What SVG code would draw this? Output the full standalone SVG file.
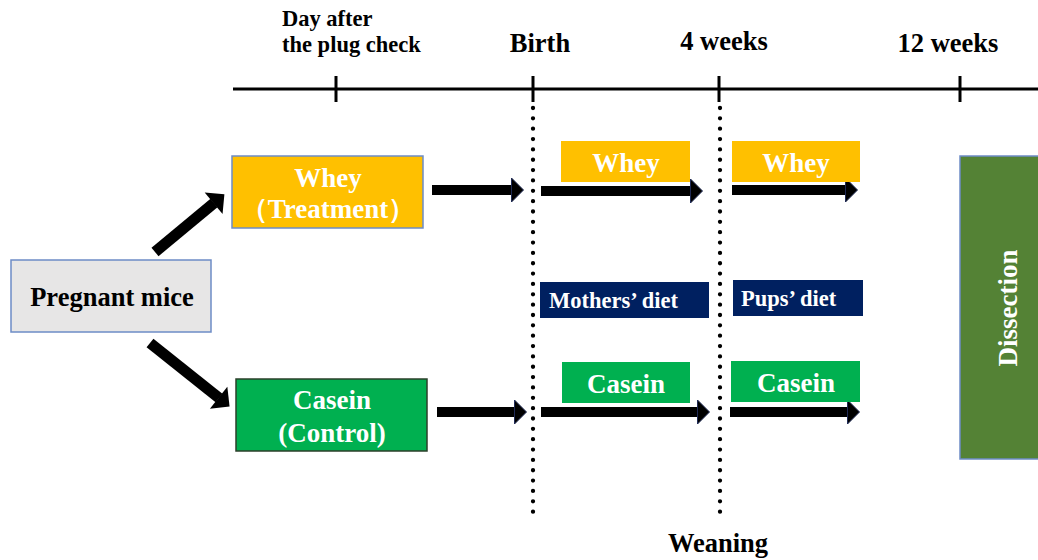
<svg xmlns="http://www.w3.org/2000/svg" width="1038" height="560" viewBox="0 0 1038 560">
<style>
text{font-family:"Liberation Serif","Times New Roman",serif;font-weight:bold;}
.lbl{font-size:26.5px;fill:#000;}
.sm{font-size:22.5px;fill:#000;}
.w{fill:#fff;font-size:27px;}
.ws{fill:#fff;font-size:22.5px;}
.dot{stroke:#000;stroke-width:4.3;stroke-linecap:round;stroke-dasharray:0 10.35;fill:none;}
.arr{stroke:#000;stroke-width:10;fill:none;marker-end:url(#ah);}
.darr{stroke:#000;stroke-width:11;fill:none;marker-end:url(#ahd);}
</style>
<defs>
<marker id="ah" markerUnits="userSpaceOnUse" markerWidth="12" markerHeight="24" refX="0.5" refY="12" orient="auto" overflow="visible">
<path d="M0,0 L12,12 L0,24 z" fill="#000" stroke="#1f2a55" stroke-width="1"/>
</marker>
<marker id="ahd" markerUnits="userSpaceOnUse" markerWidth="14" markerHeight="28" refX="0.5" refY="14" orient="auto" overflow="visible">
<path d="M0,0 L14,14 L0,28 z" fill="#000"/>
</marker>
</defs>
<g id="timeline">
<line x1="233" y1="89" x2="1038" y2="89" stroke="#000" stroke-width="3"/>
<line x1="336" y1="76" x2="336" y2="102" stroke="#000" stroke-width="3"/>
<line x1="533" y1="76" x2="533" y2="102" stroke="#000" stroke-width="3"/>
<line x1="719" y1="76" x2="719" y2="102" stroke="#000" stroke-width="3"/>
<line x1="960" y1="76" x2="960" y2="102" stroke="#000" stroke-width="3"/>
<text class="sm" x="282" y="26">Day after</text>
<text class="sm" x="282" y="52">the plug check</text>
<text class="lbl" x="540" y="52" text-anchor="middle">Birth</text>
<text class="lbl" x="724" y="50" text-anchor="middle">4 weeks</text>
<text class="lbl" x="948" y="52" text-anchor="middle">12 weeks</text>
<line class="dot" x1="533" y1="108" x2="533" y2="518"/>
<line class="dot" x1="720" y1="108" x2="720" y2="520"/>
<text class="lbl" x="718" y="552" text-anchor="middle">Weaning</text>
</g>
<g id="connectors">
<line class="darr" x1="155" y1="252" x2="214" y2="203"/>
<line class="darr" x1="150" y1="343" x2="219" y2="398"/>
<line class="arr" x1="432" y1="190" x2="512" y2="190"/>
<line class="arr" x1="541" y1="191" x2="691" y2="191"/>
<line class="arr" x1="732" y1="190" x2="846" y2="190"/>
<line class="arr" x1="437" y1="412" x2="515" y2="412"/>
<line class="arr" x1="541" y1="412" x2="698" y2="412"/>
<line class="arr" x1="730" y1="412" x2="848" y2="412"/>
</g>
<g id="pregnant">
<rect x="11" y="260" width="200" height="72" fill="#e7e6e6" stroke="#6d8cc6" stroke-width="1.5"/>
<text class="lbl" x="112" y="306" text-anchor="middle" font-size="27.5">Pregnant mice</text>
</g>
<g id="whey-treatment">
<rect x="232" y="156" width="191" height="72" fill="#ffc000" stroke="#6d8cc6" stroke-width="1.5"/>
<text class="w" x="328" y="187" text-anchor="middle">Whey</text>
<text class="w" x="328" y="218" text-anchor="middle">（Treatment）</text>
</g>
<g id="casein-control">
<rect x="236" y="379" width="191" height="72" fill="#00b050" stroke="#2b3f2a" stroke-width="1.5"/>
<text class="w" x="332" y="409" text-anchor="middle">Casein</text>
<text class="w" x="332" y="442" text-anchor="middle">(Control)</text>
</g>
<g id="whey1">
<rect x="561" y="141" width="129" height="41" fill="#ffc000"/>
<text class="w" x="626" y="172" text-anchor="middle">Whey</text>
</g>
<g id="whey2">
<rect x="732" y="141" width="128" height="41" fill="#ffc000"/>
<text class="w" x="796" y="172" text-anchor="middle">Whey</text>
</g>
<g id="mothers-diet">
<rect x="540" y="282" width="169" height="36" fill="#002060"/>
<text class="ws" x="549" y="308">Mothers’ diet</text>
</g>
<g id="pups-diet">
<rect x="733" y="280" width="130" height="36" fill="#002060"/>
<text class="ws" x="741" y="306">Pups’ diet</text>
</g>
<g id="casein1">
<rect x="562" y="362" width="128" height="41" fill="#00b050"/>
<text class="w" x="626" y="393" text-anchor="middle">Casein</text>
</g>
<g id="casein2">
<rect x="731" y="361" width="129" height="41" fill="#00b050"/>
<text class="w" x="796" y="392" text-anchor="middle">Casein</text>
</g>
<g id="dissection">
<rect x="960" y="156" width="79" height="303" fill="#548235" stroke="#6d8cc6" stroke-width="1.5"/>
<text class="w" font-size="26" transform="translate(1017,308) rotate(-90)" text-anchor="middle">Dissection</text>
</g>
</svg>
